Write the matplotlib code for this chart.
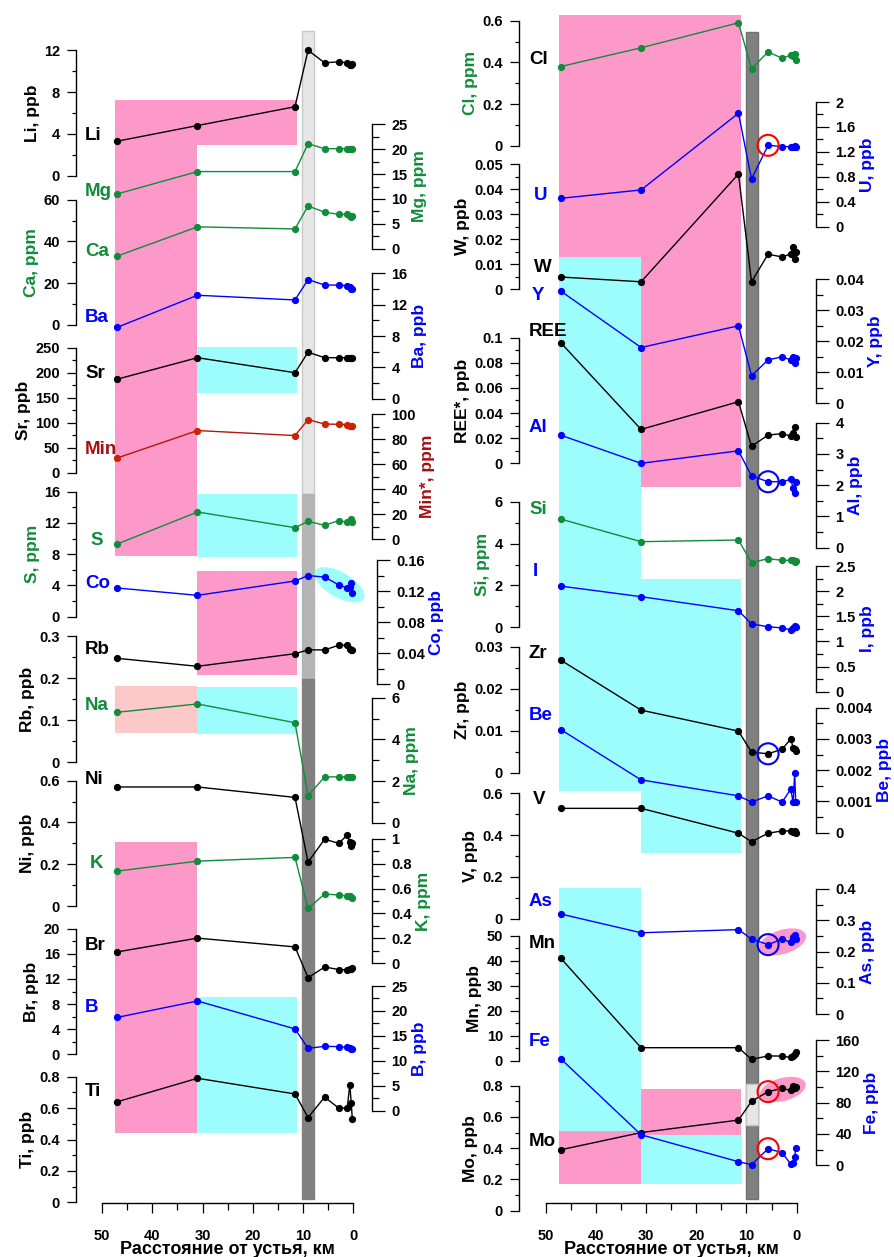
import matplotlib
matplotlib.use('Agg')
import matplotlib.pyplot as plt
from matplotlib.patches import Rectangle, Ellipse, Circle
from matplotlib.ticker import MultipleLocator, FuncFormatter

W, H = 895, 1257
plt.rcParams['font.family'] = ['Liberation Sans', 'DejaVu Sans']
plt.rcParams['font.weight'] = 'bold'

# distance from the river mouth, km
dist = [47, 31, 11.6, 9, 5.7, 2.9, 1.2, 0.7, 0.4, 0.2]

# left column
li = [3.3, 4.8, 6.6, 12.0, 10.8, 10.9, 10.8, 10.6, 10.6, 10.7]
mg = [11.0, 15.5, 15.5, 21.1, 20.1, 20.1, 20.1, 20.1, 20.1, 20.1]
ca = [33, 47, 46, 57, 54, 53, 53, 52.2, 51.8, 52]
ba = [9.1, 13.2, 12.6, 15.2, 14.5, 14.5, 14.4, 14.2, 14.0, 14.0]
sr = [187, 230, 200, 241, 230, 230, 230, 230, 230, 230]
mineral = [65, 87, 83, 95.7, 92.2, 92, 91.7, 91, 90.5, 90.5]
s = [9.3, 13.4, 11.4, 12.2, 11.7, 12.3, 12.1, 12.2, 12.5, 12.1]
co = [0.124, 0.1145, 0.133, 0.140, 0.138, 0.128, 0.124, 0.125, 0.130, 0.118]
rb = [0.247, 0.228, 0.258, 0.267, 0.267, 0.278, 0.278, 0.270, 0.266, 0.267]
na = [5.3, 5.7, 4.8, 1.3, 2.2, 2.2, 2.2, 2.2, 2.2, 2.2]
ni = [0.57, 0.57, 0.52, 0.21, 0.32, 0.30, 0.34, 0.305, 0.285, 0.30]
k = [0.74, 0.82, 0.85, 0.44, 0.556, 0.548, 0.54, 0.537, 0.53, 0.528]
br = [16.3, 18.5, 17.1, 12.2, 13.9, 13.5, 13.45, 13.55, 13.6, 13.7]
b = [18.7, 22.0, 16.4, 12.5, 12.9, 12.85, 12.7, 12.5, 12.4, 12.45]
ti = [0.64, 0.79, 0.69, 0.54, 0.67, 0.60, 0.60, 0.75, 0.63, 0.53]

# right column
cl = [0.38, 0.47, 0.59, 0.37, 0.45, 0.42, 0.435, 0.43, 0.44, 0.41]
u = [0.455, 0.59, 1.82, 0.765, 1.305, 1.285, 1.285, 1.28, 1.29, 1.275]
w = [0.0049, 0.003, 0.046, 0.003, 0.014, 0.0129, 0.0141, 0.017, 0.012, 0.0148]
yt = [0.0362, 0.018, 0.025, 0.0089, 0.014, 0.015, 0.014, 0.0148, 0.013, 0.0145]
ree = [0.096, 0.027, 0.049, 0.0135, 0.0225, 0.0236, 0.0217, 0.024, 0.029, 0.021]
al = [3.6, 2.7, 3.1, 2.3, 2.11, 2.11, 2.19, 1.92, 1.75, 2.1]
si = [5.17, 4.09, 4.17, 3.09, 3.28, 3.2, 3.2, 3.2, 3.12, 3.18]
iod = [2.10, 1.89, 1.61, 1.35, 1.29, 1.27, 1.23, 1.26, 1.30, 1.29]
zr = [0.0268, 0.0149, 0.0099, 0.0049, 0.0045, 0.0056, 0.008, 0.006, 0.0057, 0.0052]
be = [0.0033, 0.00169, 0.00118, 0.00098, 0.00118, 0.00098, 0.00139, 0.00098, 0.0019, 0.00098]
v = [0.528, 0.528, 0.409, 0.368, 0.409, 0.42, 0.42, 0.417, 0.42, 0.41]
arsenic = [0.32, 0.26, 0.27, 0.24, 0.222, 0.24, 0.229, 0.247, 0.253, 0.24]
mn = [41, 5.2, 5.2, 0.55, 1.9, 1.85, 1.3, 1.7, 2.6, 3.3]
mo = [0.39, 0.50, 0.58, 0.70, 0.762, 0.783, 0.77, 0.80, 0.783, 0.79]
fe = [136, 39, 4.6, 0.8, 21.2, 16.1, 1.7, 2.5, 10, 21.7]

BLACK = '#000000'
GREEN = '#108c3a'
BLUE = '#0000ff'
RED = '#a51010'
PINK = '#fd99c9'
CYAN = '#9dfdfd'
LPINK = '#fdc8c8'

# column geometry in pixels: x of 50 km, x of 0 km, left spine x, right spine x
cols = {'L': (102, 353.3, 76, 372), 'R': (545.7, 796.7, 519, 816)}

fig = plt.figure(figsize=(W / 100, H / 100), dpi=100)


def box(x0, x1, ytop, ybot):
    return [x0 / W, 1 - ybot / H, (x1 - x0) / W, (ybot - ytop) / H]


def fmt(val, pos):
    val = round(val, 6)
    return '0' if val == 0 else '%g' % val


# shaded zones: (column, km from, km to, y top px, y bottom px, colour)
zones = [
    ('L', 47.4, 11.2, 100, 145, PINK),
    ('L', 47.4, 31.0, 145, 555.7, PINK),
    ('L', 31.0, 11.2, 347, 392.7, CYAN),
    ('L', 31.0, 11.2, 493.7, 557, CYAN),
    ('L', 31.0, 11.2, 571, 674.7, PINK),
    ('L', 47.4, 31.0, 686, 732.7, LPINK),
    ('L', 31.0, 11.2, 687, 733.7, CYAN),
    ('L', 47.4, 31.0, 841.7, 1132.7, PINK),
    ('L', 31.0, 11.2, 997.3, 1132.7, CYAN),
    ('R', 47.4, 11.1, 15, 486.7, PINK),
    ('R', 47.4, 31.0, 257, 790.7, CYAN),
    ('R', 31.0, 11.1, 578.7, 852.7, CYAN),
    ('R', 47.4, 31.0, 888, 1131, CYAN),
    ('R', 47.4, 31.0, 1131, 1184, PINK),
    ('R', 31.0, 11.1, 1089, 1135, PINK),
    ('R', 31.0, 10.9, 1135, 1184, CYAN),
]
# vertical band near the mouth: (column, km from, km to, y top, y bottom, face, edge)
bands = [
    ('L', 10.16, 7.77, 31, 494, '#e6e6e6', '#c8c8c8'),
    ('L', 10.16, 7.77, 494, 679, '#b4b4b4', '#b4b4b4'),
    ('L', 10.16, 7.77, 679, 1198.7, '#808080', '#808080'),
    ('R', 10.1, 7.65, 32, 1198.7, '#808080', '#707070'),
    ('R', 10.1, 7.65, 1084, 1125, '#e6e6e6', '#c8c8c8'),
]

for key, (x0, x1, _, _) in cols.items():
    bg = fig.add_axes(box(x0, x1, 0, 1202.7), zorder=0)
    bg.set_xlim(50, 0)
    bg.set_ylim(1202.7, 0)
    bg.patch.set_visible(False)
    for sp in ['left', 'right', 'top']:
        bg.spines[sp].set_visible(False)
    bg.spines['bottom'].set_linewidth(1.0)
    bg.set_yticks([])
    bg.xaxis.set_major_locator(MultipleLocator(10))
    bg.xaxis.set_minor_locator(MultipleLocator(5))
    bg.tick_params(axis='x', which='major', direction='out', length=7.2, width=0.9,
                   labelsize=10.5, pad=11.5)
    bg.tick_params(axis='x', which='minor', direction='out', length=5, width=0.9)
    bg.set_xlabel('Расстояние от устья, км', fontsize=13, fontweight='bold', labelpad=-1)
    for c, a, e, yt0, yb0, colr in zones:
        if c == key:
            bg.add_patch(Rectangle((a, yt0), e - a, yb0 - yt0, facecolor=colr,
                                   edgecolor='none', zorder=0))
    for c, a, e, yt0, yb0, fc, ec in bands:
        if c == key:
            bg.add_patch(Rectangle((a, yt0), e - a, yb0 - yt0, facecolor=fc,
                                   edgecolor=ec, lw=1.0, zorder=1))

# panels: (column, side, y top px, y bottom px, ymax, major, minor, axis label, colour, values)
panels = [
    ('L', 'left', 50.3, 175.7, 12, 4, 2, 'Li, ppb', BLACK, li),
    ('L', 'left', 199.7, 325, 60, 20, 10, 'Ca, ppm', GREEN, ca),
    ('L', 'left', 347.7, 472.7, 250, 50, 25, 'Sr, ppb', BLACK, sr),
    ('L', 'left', 491.7, 616.7, 16, 4, 2, 'S, ppm', GREEN, s),
    ('L', 'left', 636, 762.3, 0.3, 0.1, 0.05, 'Rb, ppb', BLACK, rb),
    ('L', 'left', 780.7, 906, 0.6, 0.2, 0.1, 'Ni, ppb', BLACK, ni),
    ('L', 'left', 928.7, 1054.3, 20, 4, 2, 'Br, ppb', BLACK, br),
    ('L', 'left', 1076.7, 1202.3, 0.8, 0.2, 0.1, 'Ti, ppb', BLACK, ti),
    ('L', 'right', 124.3, 248.7, 25, 5, 2.5, 'Mg, ppm', GREEN, mg),
    ('L', 'right', 273.3, 398.7, 16, 4, 2, 'Ba, ppb', BLUE, ba),
    ('L', 'right', 414.3, 539.3, 100, 20, 10, 'Min*, ppm', RED, mineral),
    ('L', 'right', 560, 684.3, 0.16, 0.04, 0.02, 'Co, ppb', BLUE, co),
    ('L', 'right', 697.7, 822.7, 6, 2, 1, 'Na, ppm', GREEN, na),
    ('L', 'right', 838.7, 963.3, 1, 0.2, 0.1, 'K, ppm', GREEN, k),
    ('L', 'right', 986, 1110.7, 25, 5, 2.5, 'B, ppb', BLUE, b),
    ('R', 'left', 20.7, 145.7, 0.6, 0.2, 0.1, 'Cl, ppm', GREEN, cl),
    ('R', 'left', 164, 289.3, 0.05, 0.01, 0.005, 'W, ppb', BLACK, w),
    ('R', 'left', 337.7, 463.3, 0.1, 0.02, 0.01, 'REE*, ppb', BLACK, ree),
    ('R', 'left', 501.7, 627.3, 6, 2, 1, 'Si, ppm', GREEN, si),
    ('R', 'left', 646.7, 772.7, 0.03, 0.01, 0.005, 'Zr, ppb', BLACK, zr),
    ('R', 'left', 793.3, 918.7, 0.6, 0.2, 0.1, 'V, ppb', BLACK, v),
    ('R', 'left', 935.7, 1060.7, 50, 10, 5, 'Mn, ppb', BLACK, mn),
    ('R', 'left', 1085.7, 1210.7, 0.8, 0.2, 0.1, 'Mo, ppb', BLACK, mo),
    ('R', 'right', 102, 226.7, 2, 0.4, 0.2, 'U, ppb', BLUE, u),
    ('R', 'right', 279.3, 403.3, 0.04, 0.01, 0.005, 'Y, ppb', BLUE, yt),
    ('R', 'right', 422.7, 547.7, 4, 1, 0.5, 'Al, ppb', BLUE, al),
    ('R', 'right', 566, 691.7, 2.5, 0.5, 0.25, 'I, ppb', BLUE, iod),
    ('R', 'right', 707.7, 832.7, 0.004, 0.001, 0.0005, 'Be, ppb', BLUE, be),
    ('R', 'right', 889, 1014, 0.4, 0.1, 0.05, 'As, ppb', BLUE, arsenic),
    ('R', 'right', 1040, 1165.3, 160, 40, 20, 'Fe, ppb', BLUE, fe),
]

axes = {}
for n, (c, side, ytop, ybot, ymax, major, minor, label, colr, vals) in enumerate(panels):
    x0, x1, xl, xr = cols[c]
    ax = fig.add_axes(box(x0, x1, ytop, ybot), zorder=2 + n)
    ax.set_xlim(50, 0)
    ax.set_ylim(0, ymax)
    ax.patch.set_visible(False)
    for sp in ['left', 'right', 'top', 'bottom']:
        ax.spines[sp].set_visible(sp == side)
    ax.xaxis.set_visible(False)
    if side == 'left':
        off = x0 - xl
        big, small = 6.6, 3.1
    else:
        off = xr - x1 + (5 if label == 'Co, ppb' else 0)
        big, small = 9.0, 4.8
        ax.yaxis.tick_right()
        ax.yaxis.set_label_position('right')
    ax.spines[side].set_position(('outward', off * 0.72))
    ax.spines[side].set_linewidth(1.0)
    ax.yaxis.set_major_locator(MultipleLocator(major))
    ax.yaxis.set_minor_locator(MultipleLocator(minor))
    ax.yaxis.set_major_formatter(FuncFormatter(fmt))
    ax.tick_params(axis='y', which='major', direction='out', length=big, width=0.9,
                   labelsize=10.5, pad=5)
    ax.tick_params(axis='y', which='minor', direction='out', length=small, width=0.9)
    ax.set_ylabel(label, color=colr, fontsize=12.5, fontweight='bold', labelpad=3)
    line_c = colr if colr != RED else '#b01808'
    mark_c = colr if colr != RED else '#cc2200'
    ax.plot(dist, vals, '-', color=line_c, lw=1.0, clip_on=False, zorder=3)
    ax.plot(dist, vals, 'o', color=mark_c, ms=4.2, clip_on=False, zorder=4)
    axes[label] = ax

# element names next to the curves: (text, x px, y px, colour)
names = [
    ('Li', 85, 135, BLACK), ('Mg', 85, 191, GREEN), ('Ca', 85, 252, GREEN),
    ('Ba', 85, 318, BLUE), ('Sr', 85, 374, BLACK), ('Min', 85, 450, RED),
    ('S', 90, 541, GREEN), ('Co', 85, 583, BLUE), ('Rb', 85, 650, BLACK),
    ('Na', 85, 705, GREEN), ('Ni', 85, 780, BLACK), ('K', 90, 863, GREEN),
    ('Br', 85, 946, BLACK), ('B', 85, 1008, BLUE), ('Ti', 85, 1091, BLACK),
    ('Cl', 529, 59, BLACK), ('U', 534, 196, BLUE), ('W', 534, 267, BLACK),
    ('Y', 532, 296, BLUE), ('REE', 529, 331, BLACK), ('Al', 529, 427, BLUE),
    ('Si', 529, 509, GREEN), ('I', 533, 571, BLUE), ('Zr', 529, 654, BLACK),
    ('Be', 529, 716, BLUE), ('V', 533, 799, BLACK), ('As', 529, 902, BLUE),
    ('Mn', 529, 943, BLACK), ('Fe', 529, 1042, BLUE), ('Mo', 529, 1142, BLACK),
]
for txt, x, y, colr in names:
    fig.text(x / W, 1 - y / H, txt, color=colr, fontsize=13.5, fontweight='bold',
             ha='left', va='center', zorder=50)

# highlight marks in pixel space
over = fig.add_axes([0, 0, 1, 1], zorder=1)
over.set_xlim(0, W)
over.set_ylim(0, H)
over.axis('off')
over_top = fig.add_axes([0, 0, 1, 1], zorder=60)
over_top.set_xlim(0, W)
over_top.set_ylim(0, H)
over_top.axis('off')


def pix(label, i):
    ax = axes[label]
    vals = [p for p in panels if p[7] == label][0][9]
    return ax.transData.transform((dist[i], vals[i]))


# ellipses around the near-mouth group: (axis label, first, last, width, height, angle, colour)
groups = [
    ('Co, ppb', 4, 9, 56, 25, -30, CYAN),
    ('As, ppb', 4, 9, 48, 24, 17, PINK),
    ('Mo, ppb', 4, 9, 47, 23, 15, PINK),
]
for label, i0, i1, ew, eh, ang, colr in groups:
    p0, p1 = pix(label, i0), pix(label, i1)
    cx, cy = (p0[0] + p1[0]) / 2 + 1, (p0[1] + p1[1]) / 2
    over.add_patch(Ellipse((cx, cy), ew, eh, angle=ang, facecolor=colr, edgecolor='none'))

# circles around single samples
rings = [('U, ppb', 4, '#ff0000'), ('Al, ppb', 4, BLUE), ('Zr, ppb', 4, BLUE),
         ('As, ppb', 4, BLUE), ('Mo, ppb', 4, '#ff0000'), ('Fe, ppb', 4, '#ff0000')]
for label, i, colr in rings:
    cx, cy = pix(label, i)
    over_top.add_patch(Circle((cx, cy), 10.5, facecolor='none', edgecolor=colr, lw=1.5))

fig.savefig('out.png', dpi=100)
